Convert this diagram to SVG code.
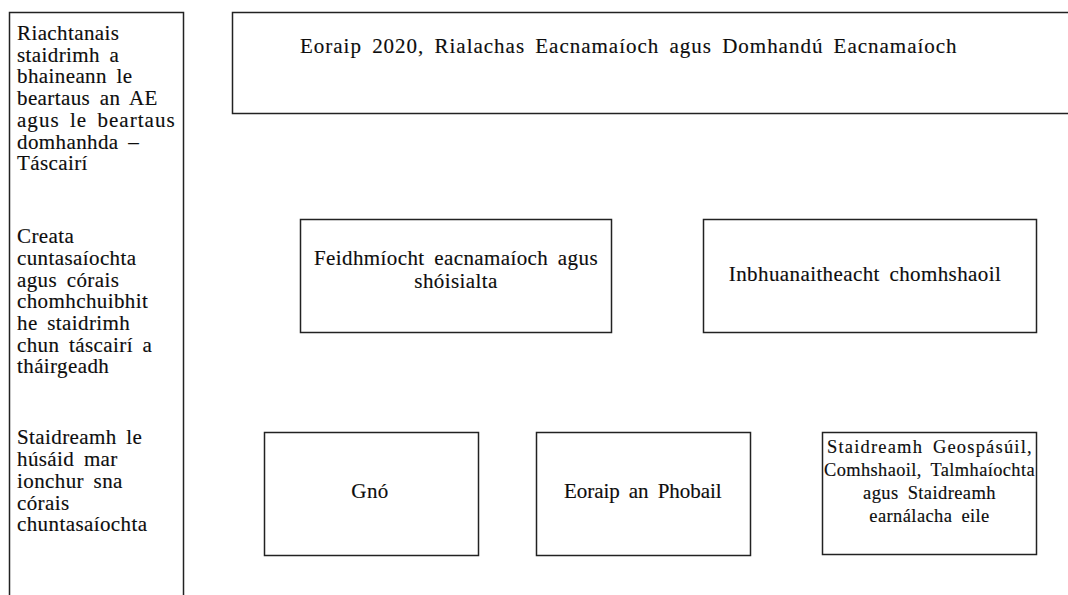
<svg xmlns="http://www.w3.org/2000/svg" width="1068" height="595" viewBox="0 0 1068 595">
<style>
.box{fill:#fff;stroke:#222;stroke-width:1.5}
text{font-family:"Liberation Serif","Times New Roman",serif;font-size:21px;fill:#0d0d0d;stroke:#0d0d0d;stroke-width:0.15;letter-spacing:0.4px;word-spacing:4px}
.c{text-anchor:middle}
.s{font-size:18.5px}
</style>
<rect width="1068" height="595" fill="#fff"/>
<g id="left-panel">
<rect class="box" x="9.5" y="12.5" width="174" height="600"/>
<text x="17" y="40">Riachtanais</text>
<text x="17" y="61.7">staidrimh a</text>
<text x="17" y="83.4">bhaineann le</text>
<text x="17" y="105.1">beartaus an AE</text>
<text x="17" y="126.8" textLength="158" lengthAdjust="spacing">agus le beartaus</text>
<text x="17" y="148.5">domhanhda –</text>
<text x="17" y="170.2">Táscairí</text>
<text x="17" y="243.2">Creata</text>
<text x="17" y="264.9">cuntasaíochta</text>
<text x="17" y="286.6">agus córais</text>
<text x="17" y="308.3">chomhchuibhit</text>
<text x="17" y="330">he staidrimh</text>
<text x="17" y="351.7">chun táscairí a</text>
<text x="17" y="373.4">tháirgeadh</text>
<text x="17" y="444.4">Staidreamh le</text>
<text x="17" y="466.1">húsáid mar</text>
<text x="17" y="487.8">ionchur sna</text>
<text x="17" y="509.5">córais</text>
<text x="17" y="531.2">chuntasaíochta</text>
</g>
<g id="connectors"></g>
<g id="europe2020">
<rect class="box" x="232.5" y="12.5" width="860" height="101"/>
<text class="c" x="628.5" y="53" textLength="657" lengthAdjust="spacing">Eoraip 2020, Rialachas Eacnamaíoch agus Domhandú Eacnamaíoch</text>
</g>
<g id="economic-social">
<rect class="box" x="300.5" y="219.5" width="311" height="113"/>
<text class="c" x="456" y="265">Feidhmíocht eacnamaíoch agus</text>
<text class="c" x="456" y="288">shóisialta</text>
</g>
<g id="environmental">
<rect class="box" x="703.5" y="219.5" width="333" height="113"/>
<text class="c" x="865" y="281">Inbhuanaitheacht chomhshaoil</text>
</g>
<g id="business">
<rect class="box" x="264.5" y="432.5" width="214" height="123"/>
<text class="c" x="370" y="498">Gnó</text>
</g>
<g id="people">
<rect class="box" x="536.5" y="432.5" width="214" height="123"/>
<text class="c" x="643" y="498" textLength="158" lengthAdjust="spacing">Eoraip an Phobail</text>
</g>
<g id="geospatial">
<rect class="box" x="822.5" y="432.5" width="214" height="122"/>
<text class="c s" x="929.5" y="453" textLength="205" lengthAdjust="spacing">Staidreamh Geospásúil,</text>
<text class="c s" x="929.5" y="476" textLength="211" lengthAdjust="spacingAndGlyphs">Comhshaoil, Talmhaíochta</text>
<text class="c s" x="929.5" y="499">agus Staidreamh</text>
<text class="c s" x="929.5" y="522">earnálacha eile</text>
</g>
</svg>
